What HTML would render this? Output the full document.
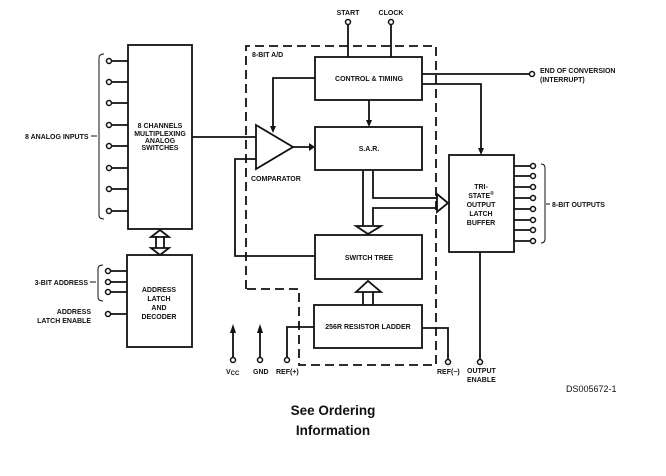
<!DOCTYPE html>
<html><head><style>body{margin:0;background:#fff}svg{display:block}</style></head><body>
<svg width="666" height="476" viewBox="0 0 666 476" xmlns="http://www.w3.org/2000/svg" font-family="Liberation Sans, sans-serif" font-weight="bold" font-size="7">
<rect width="666" height="476" fill="#fff"/>
<g stroke="#111" stroke-width="1.8" fill="none">
<!-- mux -->
<rect x="128" y="45" width="64" height="184"/>
<path d="M111 61H128M111 82H128M111 103H128M111 125H128M111 146H128M111 168H128M111 189H128M111 211H128"/>
<path d="M104 54Q99 54 99 58V215Q99 219 104 219" stroke-width="1"/>
<path d="M91 136H97" stroke-width="1"/>
<path d="M192 137H256"/>
<!-- dashed box -->
<path d="M246 289V46H436V365H299V289Z" stroke-dasharray="9,5"/>
<!-- control -->
<rect x="315" y="57" width="107" height="43"/>
<path d="M348 24V57M391 24V57"/>
<rect x="315" y="127" width="107" height="43"/>
<rect x="315" y="235" width="107" height="44"/>
<rect x="314" y="305" width="108" height="43"/>
<!-- comparator -->
<path d="M256 125L293 147L256 169Z"/>
<path d="M315 78H273V126"/>
<path d="M293 147H310"/>
<path d="M256 159H235V256H315"/>
<path d="M369 100V122"/>
<!-- sar to switch & latch -->
<path d="M363 171V226M373 171V198H438M373 225V208H438"/>
<path d="M356 226L368 234L381 226Z" fill="#fff"/>
<path d="M437 194L448 203L437 212Z" fill="#fff"/>
<!-- ladder to switch tree -->
<path d="M363 305V292M373 305V292M356 292L368 281L381 292Z"/>
<!-- latch -->
<rect x="449" y="155" width="65" height="97"/>
<path d="M422 84H481V150"/>
<path d="M422 74H530"/>
<path d="M514 166H531M514 176H531M514 187H531M514 198H531M514 209H531M514 220H531M514 230H531M514 241H531"/>
<path d="M541 164Q545 164 545 168V239Q545 243 541 243" stroke-width="1"/>
<path d="M546 204H550" stroke-width="1"/>
<path d="M480 252V360"/>
<!-- refs -->
<path d="M287 358V327H314"/>
<path d="M422 328H448V360"/>
<path d="M233 358V332M260 358V332"/>
<!-- address -->
<rect x="127" y="255" width="65" height="92"/>
<path d="M110 271H127M110 282H127M110 292H127M110 314H127"/>
<path d="M103 265Q98 265 98 269V297Q98 301 103 301" stroke-width="1"/>
<path d="M90 282H96" stroke-width="1"/>
<path d="M156 236V248M164 236V248M151 237L160 230L169 237ZM151 248L160 255L169 248Z" fill="#fff"/>
</g>
<g fill="#111">
<path d="M270 126L273 133L276 126Z"/>
<path d="M309 143L315 147L309 151Z"/>
<path d="M366 120L369 127L372 120Z"/>
<path d="M478 148L481 155L484 148Z"/>
<path d="M230 333L233 324L236 333ZM257 333L260 324L263 333Z"/>
</g>
<g fill="#fff" stroke="#111" stroke-width="1.5">
<circle cx="109" cy="61" r="2.5"/><circle cx="109" cy="82" r="2.5"/><circle cx="109" cy="103" r="2.5"/><circle cx="109" cy="125" r="2.5"/><circle cx="109" cy="146" r="2.5"/><circle cx="109" cy="168" r="2.5"/><circle cx="109" cy="189" r="2.5"/><circle cx="109" cy="211" r="2.5"/>
<circle cx="348" cy="22" r="2.5"/><circle cx="391" cy="22" r="2.5"/><circle cx="532" cy="74" r="2.5"/>
<circle cx="533" cy="166" r="2.5"/><circle cx="533" cy="176" r="2.5"/><circle cx="533" cy="187" r="2.5"/><circle cx="533" cy="198" r="2.5"/><circle cx="533" cy="209" r="2.5"/><circle cx="533" cy="220" r="2.5"/><circle cx="533" cy="230" r="2.5"/><circle cx="533" cy="241" r="2.5"/>
<circle cx="480" cy="362" r="2.5"/><circle cx="448" cy="362" r="2.5"/><circle cx="287" cy="360" r="2.5"/><circle cx="260" cy="360" r="2.5"/><circle cx="233" cy="360" r="2.5"/>
<circle cx="108" cy="271" r="2.5"/><circle cx="108" cy="282" r="2.5"/><circle cx="108" cy="292" r="2.5"/><circle cx="108" cy="314" r="2.5"/>
</g>
<g fill="#111">
<text x="25" y="139">8 ANALOG INPUTS</text>
<g text-anchor="middle">
<text x="160" y="128">8 CHANNELS</text><text x="160" y="136">MULTIPLEXING</text><text x="160" y="143">ANALOG</text><text x="160" y="150">SWITCHES</text>
<text x="348" y="15">START</text><text x="391" y="15">CLOCK</text>
<text x="369" y="81">CONTROL &amp; TIMING</text>
<text x="369" y="151">S.A.R.</text>
<text x="369" y="260">SWITCH TREE</text>
<text x="368" y="329">256R RESISTOR LADDER</text>
<text x="481" y="189">TRI-</text><text x="481" y="198">STATE<tspan font-size="5" dy="-3">®</tspan></text><text x="481" y="207">OUTPUT</text><text x="481" y="216">LATCH</text><text x="481" y="225">BUFFER</text>
<text x="159" y="292">ADDRESS</text><text x="159" y="301">LATCH</text><text x="159" y="310">AND</text><text x="159" y="319">DECODER</text>
</g>
<text x="252" y="57">8-BIT A/D</text>
<text x="251" y="181">COMPARATOR</text>
<text x="540" y="73">END OF CONVERSION</text><text x="540" y="82">(INTERRUPT)</text>
<text x="552" y="207">8-BIT OUTPUTS</text>
<text x="467" y="373">OUTPUT</text><text x="467" y="382">ENABLE</text>
<text x="437" y="374">REF(−)</text>
<text x="276" y="374">REF(+)</text>
<text x="253" y="374">GND</text>
<text x="226" y="374">V<tspan font-size="6" dy="1">CC</tspan></text>
<text x="88" y="285" text-anchor="end">3-BIT ADDRESS</text>
<text x="91" y="314" text-anchor="end">ADDRESS</text><text x="91" y="323" text-anchor="end">LATCH ENABLE</text>
<text x="566" y="392" font-weight="normal" font-size="9">DS005672-1</text>
<text x="333" y="415" text-anchor="middle" font-size="13.5">See Ordering</text>
<text x="333" y="435" text-anchor="middle" font-size="13.5">Information</text>
</g>
</svg>
</body></html>
